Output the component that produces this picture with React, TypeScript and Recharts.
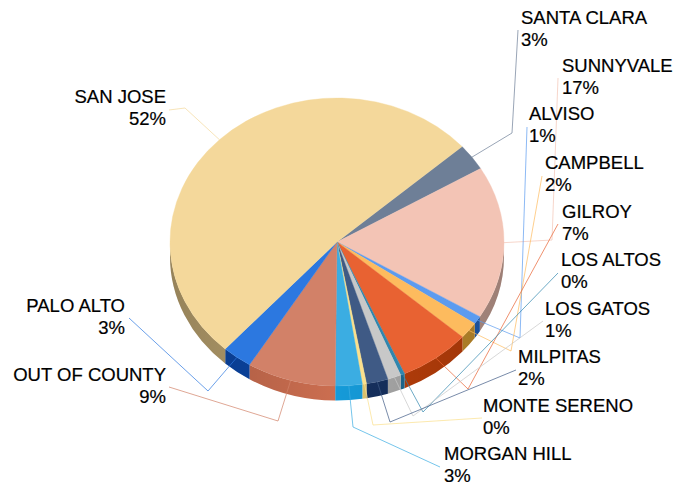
import React from 'react';
import { PieChart, Pie } from 'recharts';

const categories = [
  'SANTA CLARA', 'SUNNYVALE', 'ALVISO', 'CAMPBELL', 'GILROY', 'LOS ALTOS', 'LOS GATOS',
  'MILPITAS', 'MONTE SERENO', 'MORGAN HILL', 'OUT OF COUNTY', 'PALO ALTO', 'SAN JOSE',
];
const shares = [3.0, 17.2, 0.9, 1.9, 6.9, 0.4, 1.3, 2.1, 0.4, 2.6, 8.6, 2.9, 51.8];

const faceColors = [
  '#6E7F97', '#F3C4B5', '#5B9BF0', '#FDBB5E', '#E86232', '#2F86AE', '#C8C8C8',
  '#3F5A85', '#FBE08C', '#3BADE2', '#D28168', '#2C78E0', '#F4D89B',
];
const wallColors = [
  '#4F5D72', '#B8958A', '#1F5CB0', '#C08C2C', '#B83E0A', '#1E6A92', '#A8A8A8',
  '#16305E', '#E0C66E', '#159AD8', '#CC6E50', '#0B47A8', '#BBA370',
];

// text anchor point and the leader's elbows for each label, same order as categories
const labelX = [521, 562, 529, 545, 562, 561, 545, 518, 483, 444, 166, 125, 166];
const labelY = [24, 72, 120, 169, 218, 266, 315, 363, 412, 460, 381, 312, 103];
const labelAnchor = ['start', 'start', 'start', 'start', 'start', 'start', 'start', 'start', 'start', 'start', 'end', 'end', 'end'];
const leaderPaths: number[][][] = [
  [[512, 133], [518, 30]],
  [[552, 240], [558, 78]],
  [[520, 338], [527, 127]],
  [[511, 351], [542, 176]],
  [[468, 389], [558, 224]],
  [[423, 412], [558, 273]],
  [[413, 416], [543, 321]],
  [[390, 422], [516, 370]],
  [[373, 425], [482, 418]],
  [[353, 427], [440, 467]],
  [[278, 421], [169, 387]],
  [[208, 391], [129, 318]],
  [[185, 108], [169, 110]],
];

const pieData = categories.map((name, i) => ({ name, value: shares[i], fill: faceColors[i], wall: wallColors[i] }));

const WIDTH = 673;
const HEIGHT = 485;
const CX = 337;
const CY = 242;
const RX = 167;
const RY = 144;
const DEPTH = 14.5;
const START = 41.5;
const FONT = '"Liberation Sans", Arial, sans-serif';

// the pie is tilted, so every angle goes onto an ellipse instead of a circle
const onRim = (cx: number, cy: number, rx: number, angle: number) => {
  const rad = (angle * Math.PI) / 180;
  return { x: cx + rx * Math.cos(rad), y: cy - rx * (RY / RX) * Math.sin(rad) };
};

const FaceSlice = (props: any) => {
  const { cx, cy, outerRadius, startAngle, endAngle, fill } = props;
  const ry = outerRadius * (RY / RX);
  const a = onRim(cx, cy, outerRadius, startAngle);
  const b = onRim(cx, cy, outerRadius, endAngle);
  const large = Math.abs(startAngle - endAngle) > 180 ? 1 : 0;
  const d = `M${cx},${cy} L${a.x},${a.y} A${outerRadius},${ry} 0 ${large} 1 ${b.x},${b.y} Z`;
  return <path d={d} fill={fill} stroke={fill} strokeWidth={0.4} />;
};

const WallSlice = (props: any) => {
  const { cx, cy, outerRadius, startAngle, endAngle, payload } = props;
  const ry = outerRadius * (RY / RX);
  const pieces: string[] = [];
  // only the front half of the rim has a visible side wall
  for (let k = -1; k <= 2; k++) {
    const hi = Math.min(startAngle, -360 * k);
    const lo = Math.max(endAngle, -180 - 360 * k);
    if (hi <= lo) continue;
    const a = onRim(cx, cy, outerRadius, hi);
    const b = onRim(cx, cy, outerRadius, lo);
    pieces.push(
      `M${a.x},${a.y} A${outerRadius},${ry} 0 0 1 ${b.x},${b.y} L${b.x},${b.y + DEPTH} A${outerRadius},${ry} 0 0 0 ${a.x},${a.y + DEPTH} Z`
    );
  }
  if (pieces.length === 0) return <g />;
  const d = pieces.join(' ');
  return (
    <g>
      <path d={d} fill={payload.wall} />
      <path d={d} fill="url(#wallShade)" />
    </g>
  );
};

const Leader = (props: any) => {
  const { cx, cy, outerRadius, midAngle, index } = props;
  const start = onRim(cx, cy, outerRadius, midAngle);
  const pts = [[start.x, start.y], ...leaderPaths[index]].map((p) => p.join(',')).join(' ');
  return <polyline points={pts} fill="none" stroke={faceColors[index]} strokeOpacity={0.7} strokeWidth={1} />;
};

const SliceLabel = (props: any) => {
  const { index, name, value } = props;
  const x = labelX[index];
  const y = labelY[index];
  return (
    <text x={x} y={y} textAnchor={labelAnchor[index] as any} fontFamily={FONT} fontSize={18.5} fill="#000" stroke="#000" strokeWidth={0.2}>
      <tspan x={x} y={y}>{name}</tspan>
      <tspan x={x} y={y + 21.5}>{Math.round(value)}%</tspan>
    </text>
  );
};

export default function App() {
  return (
    <div style={{ position: 'absolute', left: 0, top: 0, width: WIDTH, height: HEIGHT, background: '#fff' }}>
      <PieChart width={WIDTH} height={HEIGHT} margin={{ top: 0, right: 0, bottom: 0, left: 0 }}>
        <defs>
          <linearGradient id="wallShade" gradientUnits="userSpaceOnUse" x1={CX - RX} y1="0" x2={CX + RX} y2="0">
            <stop offset="0%" stopColor="#000" stopOpacity={0.2} />
            <stop offset="50%" stopColor="#000" stopOpacity={0} />
            <stop offset="100%" stopColor="#000" stopOpacity={0.15} />
          </linearGradient>
        </defs>
        {/* side walls and leader lines sit under the top face */}
        <Pie
          data={pieData}
          dataKey="value"
          nameKey="name"
          cx={CX}
          cy={CY}
          outerRadius={RX}
          startAngle={START}
          endAngle={START - 360}
          stroke="none"
          shape={WallSlice}
          label={Leader}
          labelLine={false}
          isAnimationActive={false}
        />
        <Pie
          data={pieData}
          dataKey="value"
          nameKey="name"
          cx={CX}
          cy={CY}
          outerRadius={RX}
          startAngle={START}
          endAngle={START - 360}
          stroke="none"
          shape={FaceSlice}
          label={SliceLabel}
          labelLine={false}
          isAnimationActive={false}
        />
      </PieChart>
    </div>
  );
}
